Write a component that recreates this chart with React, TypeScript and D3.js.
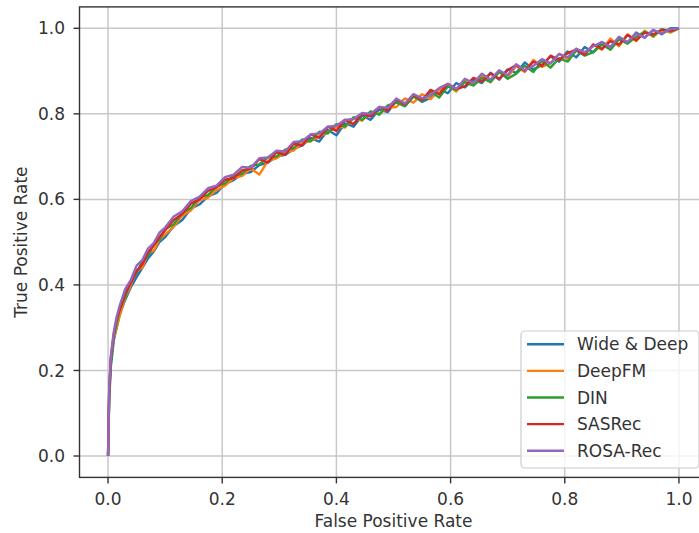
import { useEffect } from 'react';
import * as d3 from 'd3';

// shared false positive rate grid
const fpr = [
  0, 0.002, 0.005, 0.01, 0.015, 0.02, 0.03, 0.04, 0.05, 0.06, 0.07, 0.08, 0.09,
  0.1, 0.115, 0.13, 0.145, 0.16, 0.175, 0.19, 0.205, 0.22, 0.235, 0.25, 0.265,
  0.28, 0.295, 0.31, 0.325, 0.34, 0.355, 0.37, 0.385, 0.4, 0.415, 0.43, 0.445,
  0.46, 0.475, 0.49, 0.505, 0.52, 0.535, 0.55, 0.565, 0.58, 0.595, 0.61, 0.625,
  0.64, 0.655, 0.67, 0.685, 0.7, 0.715, 0.73, 0.745, 0.76, 0.775, 0.79, 0.805,
  0.82, 0.835, 0.85, 0.865, 0.88, 0.895, 0.91, 0.925, 0.94, 0.955, 0.97, 0.985, 1.0,
];

const wideDeep = [
  0, 0.13, 0.21, 0.27, 0.30, 0.33, 0.365, 0.395, 0.418, 0.44,
  0.462, 0.478, 0.50, 0.512, 0.538, 0.552, 0.578, 0.588, 0.607, 0.615,
  0.636, 0.645, 0.660, 0.664, 0.680, 0.686, 0.700, 0.704, 0.718, 0.726,
  0.744, 0.735, 0.762, 0.750, 0.778, 0.770, 0.796, 0.786, 0.810, 0.804,
  0.830, 0.818, 0.842, 0.828, 0.838, 0.858, 0.848, 0.872, 0.862, 0.880,
  0.872, 0.896, 0.880, 0.904, 0.896, 0.920, 0.904, 0.914, 0.934, 0.922,
  0.946, 0.932, 0.956, 0.944, 0.968, 0.956, 0.978, 0.966, 0.990, 0.978,
  0.996, 0.986, 1.0, 1.0,
];

const deepFM = [
  0, 0.15, 0.23, 0.275, 0.30, 0.325, 0.37, 0.40, 0.435, 0.44,
  0.475, 0.48, 0.505, 0.518, 0.536, 0.562, 0.574, 0.598, 0.604, 0.622,
  0.632, 0.650, 0.655, 0.672, 0.658, 0.690, 0.696, 0.710, 0.714, 0.732,
  0.736, 0.748, 0.756, 0.770, 0.768, 0.790, 0.784, 0.804, 0.800, 0.814,
  0.816, 0.836, 0.826, 0.846, 0.834, 0.856, 0.866, 0.852, 0.880, 0.868,
  0.890, 0.878, 0.900, 0.886, 0.912, 0.898, 0.926, 0.910, 0.918, 0.940,
  0.928, 0.952, 0.940, 0.962, 0.950, 0.976, 0.958, 0.986, 0.970, 0.994,
  0.980, 0.998, 0.990, 1.0,
];

const din = [
  0, 0.14, 0.22, 0.28, 0.31, 0.34, 0.372, 0.41, 0.428, 0.455,
  0.468, 0.495, 0.506, 0.53, 0.542, 0.568, 0.580, 0.604, 0.610, 0.630,
  0.638, 0.656, 0.660, 0.678, 0.682, 0.698, 0.700, 0.716, 0.720, 0.740,
  0.736, 0.758, 0.754, 0.776, 0.770, 0.792, 0.786, 0.806, 0.798, 0.820,
  0.826, 0.818, 0.840, 0.830, 0.852, 0.838, 0.864, 0.856, 0.874, 0.866,
  0.884, 0.874, 0.898, 0.882, 0.894, 0.912, 0.898, 0.924, 0.908, 0.930,
  0.922, 0.948, 0.936, 0.944, 0.962, 0.950, 0.974, 0.964, 0.980, 0.992,
  0.982, 0.998, 0.992, 1.0,
];

const sasRec = [
  0, 0.15, 0.23, 0.285, 0.32, 0.34, 0.38, 0.405, 0.432, 0.448,
  0.476, 0.492, 0.512, 0.528, 0.552, 0.566, 0.590, 0.600, 0.620, 0.628,
  0.646, 0.650, 0.668, 0.672, 0.694, 0.686, 0.710, 0.704, 0.730, 0.726,
  0.752, 0.744, 0.770, 0.760, 0.786, 0.776, 0.800, 0.794, 0.816, 0.808,
  0.834, 0.822, 0.844, 0.832, 0.856, 0.846, 0.870, 0.858, 0.864, 0.884,
  0.876, 0.894, 0.882, 0.902, 0.914, 0.900, 0.922, 0.912, 0.936, 0.926,
  0.942, 0.950, 0.938, 0.962, 0.952, 0.970, 0.962, 0.984, 0.972, 0.990,
  0.986, 0.996, 0.994, 1.0,
];

const rosaRec = [
  0, 0.16, 0.235, 0.29, 0.325, 0.35, 0.39, 0.412, 0.445, 0.458,
  0.485, 0.498, 0.522, 0.534, 0.56, 0.572, 0.596, 0.606, 0.626, 0.632,
  0.652, 0.658, 0.676, 0.674, 0.696, 0.698, 0.714, 0.712, 0.734, 0.736,
  0.752, 0.754, 0.770, 0.772, 0.786, 0.788, 0.802, 0.800, 0.816, 0.814,
  0.836, 0.824, 0.846, 0.836, 0.844, 0.860, 0.870, 0.858, 0.882, 0.872,
  0.894, 0.880, 0.902, 0.890, 0.916, 0.902, 0.912, 0.928, 0.918, 0.940,
  0.932, 0.952, 0.944, 0.958, 0.968, 0.956, 0.980, 0.968, 0.988, 0.978,
  0.996, 0.988, 0.998, 1.0,
];

const seriesNames = ['Wide & Deep', 'DeepFM', 'DIN', 'SASRec', 'ROSA-Rec'];
const seriesValues = [wideDeep, deepFM, din, sasRec, rosaRec];
const colors = ['#1f77b4', '#ff7f0e', '#2ca02c', '#d62728', '#9467bd'];
const ticks = [0, 0.2, 0.4, 0.6, 0.8, 1.0];

const W = 699;
const H = 533;
const FONT = '"DejaVu Sans", sans-serif';

export default function App() {
  useEffect(() => {
    document.body.style.margin = '0';
  }, []);

  // axes box (right spine falls just outside the picture, as in the original)
  const left = 79.5, right = 707.5, top = 6.9, bottom = 477.4;
  const x = d3.scaleLinear().domain([-0.05, 1.05]).range([left, right]);
  const y = d3.scaleLinear().domain([-0.05, 1.05]).range([bottom, top]);

  const line = d3.line<number>()
    .x((_, i) => x(fpr[i]))
    .y(d => y(d));

  const fmt = d3.format('.1f');

  // legend (lower right)
  const legRight = right - 8.5;
  const legLeft = 521;
  const legTop = 331;
  const rowH = 26.6;
  const firstRow = 344.3;

  return (
    <svg width={W} height={H} style={{ display: 'block', background: '#fff' }} fontFamily={FONT}>
      {/* grid */}
      {ticks.map(t => (
        <g key={'g' + t}>
          <line x1={x(t)} x2={x(t)} y1={top} y2={bottom} stroke="#c8c8c8" strokeWidth={1.5} />
          <line x1={left} x2={right} y1={y(t)} y2={y(t)} stroke="#c8c8c8" strokeWidth={1.5} />
        </g>
      ))}

      {/* curves */}
      {seriesValues.map((vals, i) => (
        <path key={seriesNames[i]} d={line(vals) || ''} fill="none" stroke={colors[i]}
          strokeWidth={2.4} strokeLinejoin="round" />
      ))}

      {/* spines */}
      <rect x={left} y={top} width={right - left} height={bottom - top} fill="none" stroke="#333" strokeWidth={1.4} />

      {/* x ticks */}
      {ticks.map(t => (
        <g key={'x' + t}>
          <line x1={x(t)} x2={x(t)} y1={bottom} y2={bottom + 6} stroke="#333" strokeWidth={1.4} />
          <text x={x(t)} y={505} textAnchor="middle" fontSize={17} fill="#333">{fmt(t)}</text>
        </g>
      ))}

      {/* y ticks */}
      {ticks.map(t => (
        <g key={'y' + t}>
          <line x1={left - 6} x2={left} y1={y(t)} y2={y(t)} stroke="#333" strokeWidth={1.4} />
          <text x={65} y={y(t)} dy="0.36em" textAnchor="end" fontSize={17} fill="#333">{fmt(t)}</text>
        </g>
      ))}

      <text x={(x(0) + x(1)) / 2} y={527} textAnchor="middle" fontSize={17} fill="#333">False Positive Rate</text>
      <text transform={`translate(27,${(y(0) + y(1)) / 2}) rotate(-90)`} textAnchor="middle" fontSize={17} fill="#333">
        True Positive Rate
      </text>

      {/* legend */}
      <rect x={legLeft} y={legTop} width={legRight - legLeft} height={137} rx={4}
        fill="#fff" fillOpacity={0.8} stroke="#cccccc" strokeWidth={1.2} />
      {seriesNames.map((name, i) => {
        const cy = firstRow + i * rowH;
        return (
          <g key={'l' + name}>
            <line x1={527} x2={564} y1={cy} y2={cy} stroke={colors[i]} strokeWidth={2.4} />
            <text x={577} y={cy} dy="0.36em" fontSize={17} fill="#333">{name}</text>
          </g>
        );
      })}
    </svg>
  );
}
